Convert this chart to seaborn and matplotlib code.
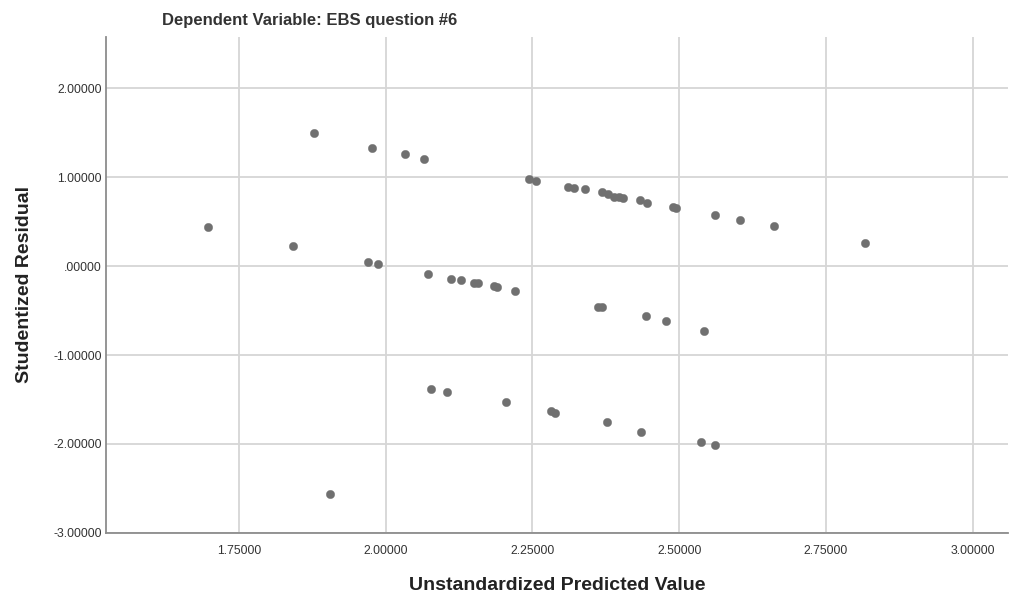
import numpy as np
import pandas as pd
import seaborn as sns
import matplotlib
matplotlib.use('Agg')
import matplotlib.pyplot as plt
from matplotlib.ticker import FixedLocator

# values
predicted = [1.697, 1.842, 1.878, 1.905, 1.970, 1.977, 1.987, 2.033, 2.066,
             2.073, 2.077, 2.105, 2.112, 2.128, 2.150, 2.157, 2.184, 2.189,
             2.205, 2.221, 2.245, 2.256, 2.282, 2.289, 2.311, 2.321, 2.340,
             2.362, 2.368, 2.368, 2.377, 2.378, 2.389, 2.398, 2.405, 2.434,
             2.435, 2.444, 2.445, 2.478, 2.489, 2.495, 2.538, 2.543, 2.561,
             2.561, 2.604, 2.661, 2.816]
residual = [0.446, 0.225, 1.494, -2.560, 0.045, 1.333, 0.022, 1.258, 1.210,
            -0.087, -1.378, -1.412, -0.139, -0.157, -0.184, -0.191, -0.221, -0.232,
            -1.532, -0.277, 0.978, 0.959, -1.629, -1.652, 0.891, 0.876, 0.869,
            -0.457, -0.462, 0.839, -1.753, 0.809, 0.783, 0.779, 0.764, 0.749,
            -1.861, -0.558, 0.715, -0.611, 0.666, 0.659, -1.978, -0.730, 0.577,
            -2.008, 0.524, 0.449, 0.258]

x_ticks = [1.75, 2.00, 2.25, 2.50, 2.75, 3.00]
y_ticks = [-3.0, -2.0, -1.0, 0.0, 1.0, 2.0]

title = 'Dependent Variable: EBS question #6'
x_label = 'Unstandardized Predicted Value'
y_label = 'Studentized Residual'

df = pd.DataFrame({'pred': predicted, 'resid': residual})

sns.set_style('white')
plt.rcParams['font.family'] = ['Liberation Sans', 'DejaVu Sans']

fig = plt.figure(figsize=(10.1, 5.96), dpi=100)
ax = fig.add_axes([0.105, 0.106, 0.893, 0.832])

ax.xaxis.set_major_locator(FixedLocator(x_ticks))
ax.yaxis.set_major_locator(FixedLocator(y_ticks))
ax.grid(True, color='#d6d6d6', linewidth=1.3)
ax.set_axisbelow(True)

sns.scatterplot(data=df, x='pred', y='resid', ax=ax, color='#707070',
                s=36, edgecolor='#707070', linewidth=0.3, zorder=3)

ax.set_xlim(1.524, 3.06)
ax.set_ylim(-3.0, 2.58)

def fmt_y(v):
    if v == 0:
        return '.00000'
    return '%.5f' % v

ax.set_xticklabels(['%.5f' % v for v in x_ticks])
ax.set_yticklabels([fmt_y(v) for v in y_ticks])
ax.tick_params(length=0, labelsize=8.8, labelcolor='#333333')
ax.tick_params(axis='x', pad=9)
ax.tick_params(axis='y', pad=3)

for side in ['top', 'right']:
    ax.spines[side].set_visible(False)
for side in ['left', 'bottom']:
    ax.spines[side].set_color('#8c8c8c')
    ax.spines[side].set_linewidth(1.3)

ax.set_xlabel(x_label, fontsize=14, fontweight='bold', color='#222222', labelpad=14)
ax.set_ylabel(y_label, fontsize=14, fontweight='bold', color='#222222', labelpad=15)
fig.text(0.16, 0.965, title, fontsize=12, fontweight='bold', color='#333333',
         ha='left', va='center')

fig.savefig('out.png', dpi=100)
